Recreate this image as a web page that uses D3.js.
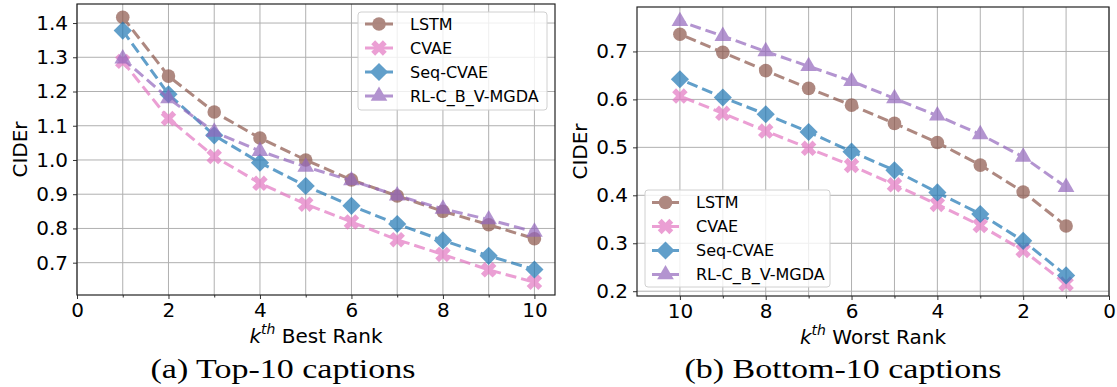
<!DOCTYPE html>
<html>
<head>
<meta charset="utf-8">
<script src="https://cdn.jsdelivr.net/npm/d3@7"></script>
<style>
  body { margin: 0; background: #fff; }
  svg { display: block; }
  text { font-family: "DejaVu Sans", sans-serif; fill: #000; }
</style>
</head>
<body>
<svg id="chart" width="1117" height="387"></svg>
<script>
// data
var ranks = [1, 2, 3, 4, 5, 6, 7, 8, 9, 10];
var seriesNames = ['LSTM', 'CVAE', 'Seq-CVAE', 'RL-C_B_V-MGDA'];

// top-10 (best rank k = 1..10)
var lstmBest = [1.417, 1.245, 1.140, 1.064, 1.000, 0.942, 0.895, 0.850, 0.811, 0.770];
var cvaeBest = [1.288, 1.121, 1.010, 0.932, 0.871, 0.819, 0.767, 0.724, 0.679, 0.643];
var seqBest  = [1.378, 1.192, 1.072, 0.992, 0.924, 0.866, 0.813, 0.765, 0.720, 0.680];
var rlBest   = [1.296, 1.180, 1.082, 1.026, 0.980, 0.940, 0.896, 0.857, 0.826, 0.790];

// bottom-10 (worst rank k = 1..10)
var lstmWorst = [0.336, 0.407, 0.463, 0.510, 0.550, 0.588, 0.623, 0.660, 0.698, 0.736];
var cvaeWorst = [0.215, 0.285, 0.337, 0.381, 0.422, 0.462, 0.498, 0.534, 0.571, 0.607];
var seqWorst  = [0.233, 0.305, 0.361, 0.406, 0.452, 0.491, 0.532, 0.569, 0.604, 0.642];
var rlWorst   = [0.417, 0.480, 0.527, 0.566, 0.602, 0.638, 0.669, 0.700, 0.732, 0.763];

var bestTicksX = [0, 2, 4, 6, 8, 10];
var bestTicksY = [0.7, 0.8, 0.9, 1.0, 1.1, 1.2, 1.3, 1.4];
var worstTicksX = [10, 8, 6, 4, 2, 0];
var worstTicksY = [0.2, 0.3, 0.4, 0.5, 0.6, 0.7];

var colors = ['#8c564b', '#e377c2', '#1f77b4', '#9467bd'];
var symbols = [
  { type: d3.symbolCircle, size: 145, rot: 0 },
  { type: d3.symbolCross, size: 150, rot: 45 },
  { type: d3.symbolSquare, size: 165, rot: 45 },
  { type: d3.symbolTriangle, size: 120, rot: 0 }
];

var svg = d3.select('#chart');

function panel(opts) {
  var x = d3.scaleLinear().domain(opts.xDomain).range([opts.left, opts.right]);
  var y = d3.scaleLinear().domain(opts.yDomain).range([opts.bottom, opts.top]);
  var g = svg.append('g');

  // grid
  var gridX = d3.range(0, 11);
  g.selectAll('.gx').data(gridX).enter().append('line')
    .attr('x1', d => x(d)).attr('x2', d => x(d))
    .attr('y1', opts.top).attr('y2', opts.bottom)
    .attr('stroke', '#b0b0b0').attr('stroke-width', 1);
  g.selectAll('.gy').data(opts.yTicks).enter().append('line')
    .attr('x1', opts.left).attr('x2', opts.right)
    .attr('y1', d => y(d)).attr('y2', d => y(d))
    .attr('stroke', '#b0b0b0').attr('stroke-width', 1);

  // axes
  var xAxis = d3.axisBottom(x).tickValues(opts.xTicks).tickFormat(d3.format('d'))
    .tickSize(4).tickPadding(4);
  var gx = g.append('g').attr('transform', 'translate(0,' + opts.bottom + ')').call(xAxis);
  var minor = d3.axisBottom(x).tickValues([1, 3, 5, 7, 9]).tickFormat('').tickSize(2.5);
  g.append('g').attr('transform', 'translate(0,' + opts.bottom + ')').call(minor)
    .select('.domain').remove();
  var yAxis = d3.axisLeft(y).tickValues(opts.yTicks).tickFormat(d3.format('.1f'))
    .tickSize(4).tickPadding(5);
  var gy = g.append('g').attr('transform', 'translate(' + opts.left + ',0)').call(yAxis);
  [gx, gy].forEach(function(a) {
    a.select('.domain').remove();
    a.selectAll('text').style('font-size', '20px').attr('font-family', 'DejaVu Sans');
  });
  g.selectAll('.tick line').attr('stroke', '#333');

  // series
  opts.data.forEach(function(vals, i) {
    var pts = ranks.map((r, j) => [r, vals[j]]);
    var sg = g.append('g').attr('opacity', 0.7);
    sg.append('path')
      .datum(pts)
      .attr('d', d3.line().x(d => x(d[0])).y(d => y(d[1])))
      .attr('fill', 'none')
      .attr('stroke', colors[i])
      .attr('stroke-width', 3)
      .attr('stroke-dasharray', '11,5');
    var sym = symbols[i];
    sg.selectAll('.m').data(pts).enter().append('path')
      .attr('d', d3.symbol().type(sym.type).size(sym.size))
      .attr('transform', d => 'translate(' + x(d[0]) + ',' + y(d[1]) + ') rotate(' + sym.rot + ')')
      .attr('fill', colors[i]);
  });

  // frame
  g.append('rect')
    .attr('x', opts.left).attr('y', opts.top)
    .attr('width', opts.right - opts.left).attr('height', opts.bottom - opts.top)
    .attr('fill', 'none').attr('stroke', '#222').attr('stroke-width', 1.2);

  // axis labels
  var cx = (opts.left + opts.right) / 2;
  var xl = g.append('text').attr('x', cx).attr('y', opts.bottom + 48)
    .attr('text-anchor', 'middle').style('font-size', '20px');
  xl.append('tspan').text('k').style('font-style', 'italic');
  xl.append('tspan').text('th').style('font-style', 'italic')
    .style('font-size', '14px').attr('dy', -9);
  xl.append('tspan').text(' ' + opts.xLabel).attr('dy', 9);

  g.append('text')
    .attr('transform', 'translate(' + opts.yLabelX + ',' + ((opts.top + opts.bottom) / 2) + ') rotate(-90)')
    .attr('text-anchor', 'middle').style('font-size', '20px').text('CIDEr');

  // caption
  g.append('text').attr('x', opts.capX).attr('y', 378)
    .attr('text-anchor', 'middle')
    .style('font-family', '"Liberation Serif", serif').style('font-size', '27px')
    .attr('textLength', opts.capW).attr('lengthAdjust', 'spacingAndGlyphs')
    .text(opts.caption);

  // legend
  var L = opts.legend;
  var lg = g.append('g');
  lg.append('rect').attr('x', L.x).attr('y', L.y).attr('width', L.w).attr('height', L.h)
    .attr('rx', 3).attr('fill', '#fff').attr('fill-opacity', 0.8)
    .attr('stroke', '#d0d0d0').attr('stroke-width', 1);
  seriesNames.forEach(function(name, i) {
    var yy = L.y + L.first + i * L.step;
    var eg = lg.append('g').attr('opacity', 0.7);
    eg.append('line').attr('x1', L.hx0).attr('x2', L.hx1).attr('y1', yy).attr('y2', yy)
      .attr('stroke', colors[i]).attr('stroke-width', 3);
    eg.append('path')
      .attr('d', d3.symbol().type(symbols[i].type).size(symbols[i].size))
      .attr('transform', 'translate(' + ((L.hx0 + L.hx1) / 2) + ',' + yy + ') rotate(' + symbols[i].rot + ')')
      .attr('fill', colors[i]);
    lg.append('text').attr('x', L.tx).attr('y', yy).attr('dy', '0.36em')
      .style('font-size', '16px').text(name);
  });
}

panel({
  left: 77, right: 555, top: 4, bottom: 295,
  xDomain: [0, 10.45], yDomain: [0.6056, 1.4556],
  xTicks: bestTicksX, yTicks: bestTicksY,
  data: [lstmBest, cvaeBest, seqBest, rlBest],
  xLabel: 'Best Rank', yLabelX: 27,
  caption: '(a) Top-10 captions', capX: 283, capW: 265,
  legend: { x: 358, y: 12, w: 189, h: 98, first: 12, step: 24, hx0: 365, hx1: 393, tx: 410 }
});

panel({
  left: 637, right: 1109, top: 7, bottom: 296,
  xDomain: [11, 0], yDomain: [0.190, 0.7927],
  xTicks: worstTicksX, yTicks: worstTicksY,
  data: [lstmWorst, cvaeWorst, seqWorst, rlWorst],
  xLabel: 'Worst Rank', yLabelX: 587,
  caption: '(b) Bottom-10 captions', capX: 843, capW: 317,
  legend: { x: 645, y: 190, w: 185, h: 97, first: 12.5, step: 24, hx0: 652, hx1: 679, tx: 696 }
});
</script>
</body>
</html>
